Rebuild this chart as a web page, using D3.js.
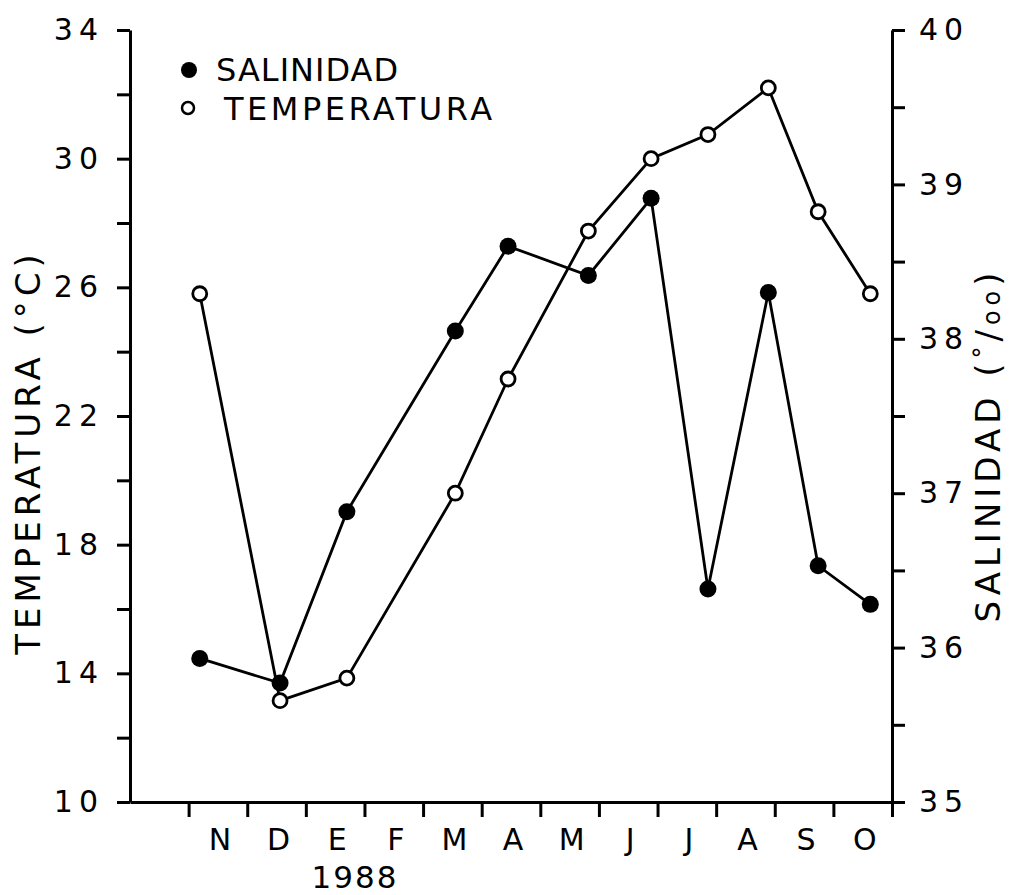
<!DOCTYPE html>
<html lang="es">
<head>
<meta charset="UTF-8">
<title>Salinidad y temperatura</title>
<script src="https://cdn.jsdelivr.net/npm/d3@7"></script>
<style>
  body { margin: 0; background: #fff; }
  svg text { font-family: "DejaVu Sans", sans-serif; fill: #000; }
  .axis path, .axis line { stroke: #000; stroke-width: 3px; }
  .serie { fill: none; stroke: #000; stroke-width: 2.8px; }
</style>
</head>
<body>
<div id="chart"></div>
<script>
// --- datos ---
const meses = ["N", "D", "E", "F", "M", "A", "M", "J", "J", "A", "S", "O"];
// posicion del muestreo en meses (0 = inicio de noviembre)
const muestreo = [0.19, 1.56, 2.70, 4.55, 5.45, 6.82, 7.89, 8.86, 9.89, 10.74, 11.63];
const temperatura = [25.8, 13.15, 13.85, 19.6, 23.15, 27.75, 30.0, 30.75, 32.2, 28.35, 25.8];
const salinidad = [35.93, 35.77, 36.88, 38.05, 38.60, 38.41, 38.91, 36.38, 38.30, 36.53, 36.28];
const ticksTemp = [10, 12, 14, 16, 18, 20, 22, 24, 26, 28, 30, 32, 34];
const ticksSal = [35, 35.5, 36, 36.5, 37, 37.5, 38, 38.5, 39, 39.5, 40];

// --- dimensiones ---
const width = 1014, height = 895;
const mIzq = 130, mDer = 892, mSup = 30, mInf = 802;

const svg = d3.select("#chart").append("svg")
    .attr("width", width)
    .attr("height", height);

const x = d3.scaleLinear().domain([-1, 12]).range([mIzq, mDer]);
const yT = d3.scaleLinear().domain([10, 34]).range([mInf, mSup]);
const yS = d3.scaleLinear().domain([35, 40]).range([mInf, mSup]);

// eje izquierdo (temperatura)
const ejeT = svg.append("g")
    .attr("class", "axis")
    .attr("transform", `translate(${mIzq},0)`)
    .call(d3.axisLeft(yT).tickValues(ticksTemp).tickSize(13).tickSizeOuter(0)
        .tickFormat(d => d % 4 === 2 ? d : ""));
ejeT.selectAll("text")
    .style("font-size", "30px")
    .style("letter-spacing", "6px")
    .attr("x", -26);

// eje derecho (salinidad)
const ejeS = svg.append("g")
    .attr("class", "axis")
    .attr("transform", `translate(${mDer},0)`)
    .call(d3.axisRight(yS).tickValues(ticksSal).tickSize(13).tickSizeOuter(0)
        .tickFormat(d => Number.isInteger(d) ? d : ""));
ejeS.selectAll("text")
    .style("font-size", "30px")
    .style("letter-spacing", "6px")
    .attr("x", 27);

// eje inferior (meses)
const ejeX = svg.append("g")
    .attr("class", "axis")
    .attr("transform", `translate(0,${mInf})`)
    .call(d3.axisBottom(x).tickValues(d3.range(0, 13)).tickSize(15).tickSizeOuter(0)
        .tickFormat(""));

svg.append("g")
    .selectAll("text")
    .data(meses)
    .join("text")
    .attr("x", (d, i) => x(i + 0.5) + 2)
    .attr("y", 850)
    .attr("text-anchor", "middle")
    .style("font-size", "30px")
    .text(d => d);

svg.append("text")
    .attr("x", 355)
    .attr("y", 888)
    .attr("text-anchor", "middle")
    .style("font-size", "31px")
    .style("letter-spacing", "2px")
    .text("1988");

// titulos de los ejes
svg.append("text")
    .attr("transform", "translate(40,452) rotate(-90)")
    .attr("text-anchor", "middle")
    .style("font-size", "34px")
    .style("letter-spacing", "5px")
    .text("TEMPERATURA (°C)");

const tituloS = svg.append("text")
    .attr("transform", "translate(1000,445) rotate(-90)")
    .attr("text-anchor", "middle")
    .style("font-size", "34px")
    .style("letter-spacing", "5px");
tituloS.append("tspan").text("SALINIDAD (");
tituloS.append("tspan").attr("dy", -9).style("font-size", "24px").text("°");
tituloS.append("tspan").attr("dy", 9).text("/");
tituloS.append("tspan").style("font-size", "24px").text("oo");
tituloS.append("tspan").text(")");

// series
const puntosS = muestreo.map((m, i) => [x(m), yS(salinidad[i])]);
const puntosT = muestreo.map((m, i) => [x(m), yT(temperatura[i])]);

svg.append("path").attr("class", "serie").attr("d", d3.line()(puntosS));
svg.append("path").attr("class", "serie").attr("d", d3.line()(puntosT));

svg.append("g").selectAll("circle")
    .data(puntosS)
    .join("circle")
    .attr("cx", d => d[0]).attr("cy", d => d[1])
    .attr("r", 8.5)
    .attr("fill", "#000");

svg.append("g").selectAll("circle")
    .data(puntosT)
    .join("circle")
    .attr("cx", d => d[0]).attr("cy", d => d[1])
    .attr("r", 7)
    .attr("fill", "#fff")
    .attr("stroke", "#000")
    .attr("stroke-width", 2.8);

// leyenda
const leyenda = svg.append("g");
leyenda.append("circle").attr("cx", 189).attr("cy", 70).attr("r", 8).attr("fill", "#000");
leyenda.append("circle").attr("cx", 188).attr("cy", 108).attr("r", 6)
    .attr("fill", "#fff").attr("stroke", "#000").attr("stroke-width", 2.5);
leyenda.append("text").attr("x", 216).attr("y", 81)
    .style("font-size", "32px").style("letter-spacing", "1px").text("SALINIDAD");
leyenda.append("text").attr("x", 224).attr("y", 120)
    .style("font-size", "32px").style("letter-spacing", "3.5px").text("TEMPERATURA");
</script>
</body>
</html>
